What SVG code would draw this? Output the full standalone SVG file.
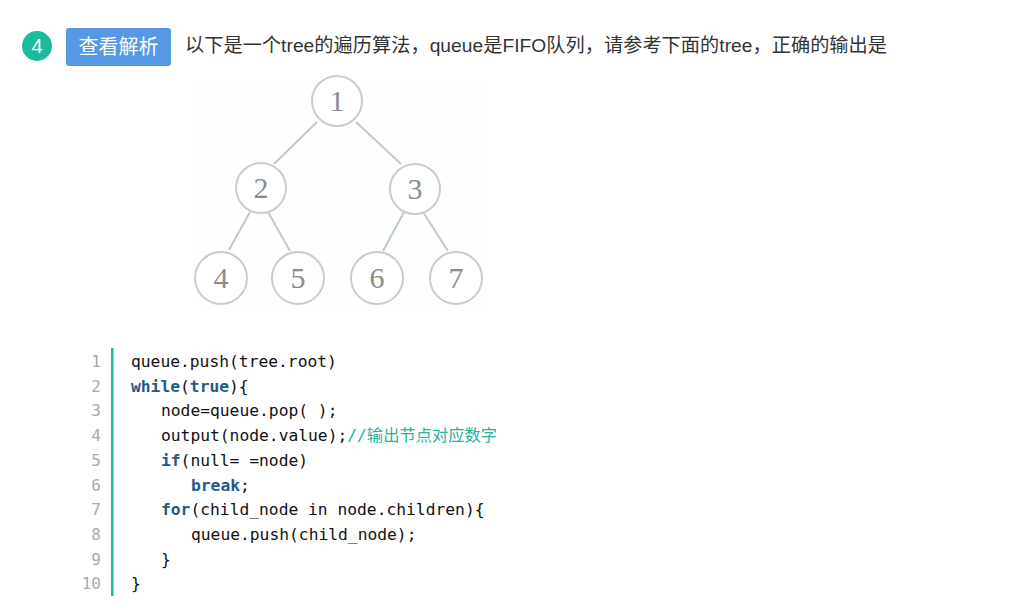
<svg xmlns="http://www.w3.org/2000/svg" width="1013" height="613" viewBox="0 0 1013 613">
<style>
.q{font-family:"Liberation Sans","Noto Sans CJK SC",sans-serif;font-size:19.2px;fill:#333}
.btn{font-family:"Liberation Sans","Noto Sans CJK SC",sans-serif;font-size:20px;fill:#fff}
.nc{fill:#fff;stroke:#c9cdcc;stroke-width:2}
.nt{font-family:"Liberation Serif",serif;font-size:30px;fill:#8a8c8c;text-anchor:middle}
.edge{stroke:#c4c8c7;stroke-width:2}
.ln{font-family:"DejaVu Sans Mono",monospace;font-size:16px;fill:#aaa;text-anchor:end}
.code{font-family:"DejaVu Sans Mono","Noto Sans CJK SC",monospace;font-size:16.3px;fill:#111;white-space:pre}
.kw{fill:#1e5a8a;font-weight:bold}
.cm{fill:#22b2a0}
</style>
<rect width="1013" height="613" fill="#fff"/>
<g id="header">
<circle cx="37" cy="46" r="15" fill="#1bbc9b"/>
<text x="37" y="53" font-family="Liberation Sans,sans-serif" font-size="20" fill="#fff" text-anchor="middle">4</text>
<rect x="66" y="28" width="105" height="38" rx="3" fill="#5599e5"/>
<text class="btn" x="118.5" y="54" text-anchor="middle">查看解析</text>
<text class="q" x="185" y="52" textLength="702" lengthAdjust="spacing">以下是一个tree的遍历算法，queue是FIFO队列，请参考下面的tree，正确的输出是</text>
</g>
<rect x="195" y="76" width="295" height="234" fill="#fdfefe"/>
<g id="connectors">
<line class="edge" x1="317" y1="122" x2="274" y2="164"/>
<line class="edge" x1="356" y1="122" x2="401" y2="164"/>
<line class="edge" x1="250" y1="212" x2="229" y2="250"/>
<line class="edge" x1="268" y1="212" x2="290" y2="251"/>
<line class="edge" x1="404" y1="212" x2="383" y2="251"/>
<line class="edge" x1="423" y1="212" x2="448" y2="251"/>
</g>
<g id="n1"><circle class="nc" cx="337" cy="101" r="25"/><text class="nt" x="337" y="111">1</text></g>
<g id="n2"><circle class="nc" cx="261" cy="188" r="25"/><text class="nt" x="261" y="198">2</text></g>
<g id="n3"><circle class="nc" cx="415" cy="189" r="25"/><text class="nt" x="415" y="199">3</text></g>
<g id="n4"><circle class="nc" cx="221" cy="278" r="26"/><text class="nt" x="221" y="288">4</text></g>
<g id="n5"><circle class="nc" cx="298" cy="278" r="26"/><text class="nt" x="298" y="288">5</text></g>
<g id="n6"><circle class="nc" cx="377" cy="278" r="26"/><text class="nt" x="377" y="288">6</text></g>
<g id="n7"><circle class="nc" cx="456" cy="278" r="26"/><text class="nt" x="456" y="288">7</text></g>
<g id="code">
<rect x="111" y="348" width="2.5" height="248" fill="#1bbc9b"/>
<text class="ln" x="101" y="367">1</text>
<text class="ln" x="101" y="391.7">2</text>
<text class="ln" x="101" y="416.4">3</text>
<text class="ln" x="101" y="441.1">4</text>
<text class="ln" x="101" y="465.8">5</text>
<text class="ln" x="101" y="490.5">6</text>
<text class="ln" x="101" y="515.2">7</text>
<text class="ln" x="101" y="539.9">8</text>
<text class="ln" x="101" y="564.6">9</text>
<text class="ln" x="101" y="589.3">10</text>
<text class="code" x="131" y="367">queue.push(tree.root)</text>
<text class="code" x="131" y="391.7"><tspan class="kw">while</tspan>(<tspan class="kw">true</tspan>){</text>
<text class="code" x="161" y="416.4">node=queue.pop( );</text>
<text class="code" x="161" y="441.1">output(node.value);<tspan class="cm">//输出节点对应数字</tspan></text>
<text class="code" x="161" y="465.8"><tspan class="kw">if</tspan>(null= =node)</text>
<text class="code" x="191" y="490.5"><tspan class="kw">break</tspan>;</text>
<text class="code" x="161" y="515.2"><tspan class="kw">for</tspan>(child_node in node.children){</text>
<text class="code" x="191" y="539.9">queue.push(child_node);</text>
<text class="code" x="161" y="564.6">}</text>
<text class="code" x="131" y="589.3">}</text>
</g>
</svg>
